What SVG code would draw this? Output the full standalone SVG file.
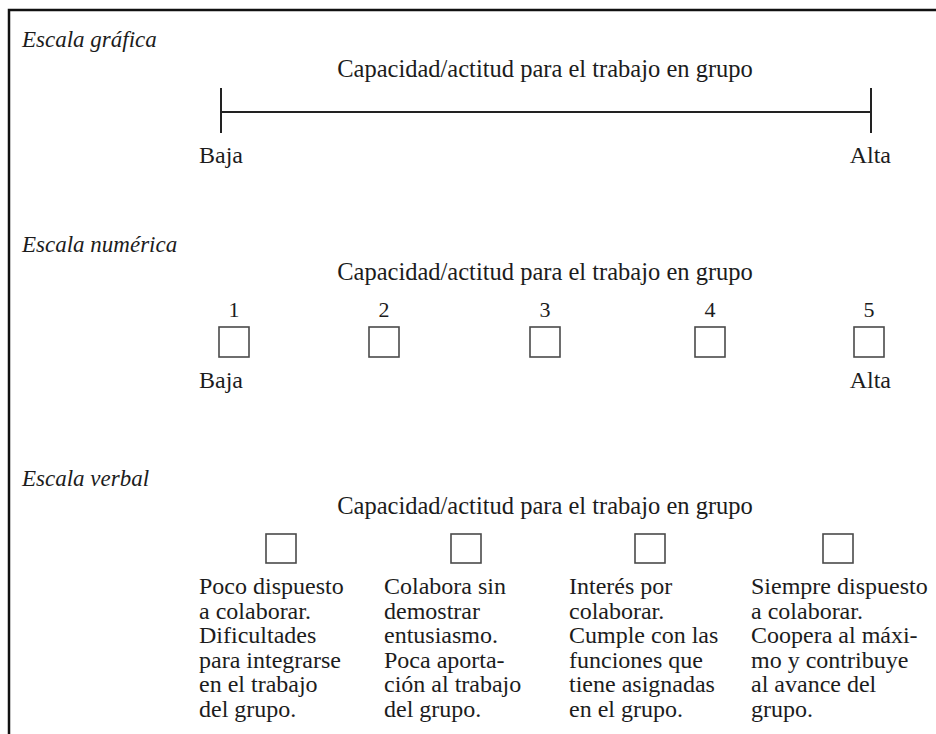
<svg xmlns="http://www.w3.org/2000/svg" width="936" height="734" viewBox="0 0 936 734">
<style>
  text { font-family: "Liberation Serif", "Times New Roman", serif; fill: #1c1c1c; }
  .h { font-style: italic; font-size: 23px; }
  .t { font-size: 24.5px; text-anchor: middle; }
  .n { font-size: 22px; text-anchor: middle; }
  .lbl { font-size: 24px; }
  .d { font-size: 24px; }
  .box { fill: #fff; stroke: #4a4a4a; stroke-width: 1.6; }
  .ln { stroke: #222; stroke-width: 2; fill: none; }
  .frame { stroke: #111; stroke-width: 2.5; fill: none; }
</style>
<rect x="0" y="0" width="936" height="734" fill="#fff"/>
<path class="frame" d="M9,734 V10 H936"/>

<g id="escala-grafica">
  <text class="h" x="22" y="47">Escala gráfica</text>
  <text class="t" x="545" y="77">Capacidad/actitud para el trabajo en grupo</text>
  <text class="lbl" x="199" y="163">Baja</text>
  <text class="lbl" x="891" y="163" text-anchor="end">Alta</text>
</g>

<g id="connectors">
  <line class="ln" x1="221" y1="112" x2="871" y2="112"/>
  <line class="ln" x1="221" y1="88" x2="221" y2="133"/>
  <line class="ln" x1="871" y1="88" x2="871" y2="133"/>
</g>

<g id="escala-numerica">
  <text class="h" x="22" y="252">Escala numérica</text>
  <text class="t" x="545" y="280">Capacidad/actitud para el trabajo en grupo</text>
  <g id="num-1"><text class="n" x="234" y="317">1</text><rect class="box" x="219" y="327" width="30" height="30"/></g>
  <g id="num-2"><text class="n" x="384" y="317">2</text><rect class="box" x="369" y="327" width="30" height="30"/></g>
  <g id="num-3"><text class="n" x="545" y="317">3</text><rect class="box" x="530" y="327" width="30" height="30"/></g>
  <g id="num-4"><text class="n" x="710" y="317">4</text><rect class="box" x="695" y="327" width="30" height="30"/></g>
  <g id="num-5"><text class="n" x="869" y="317">5</text><rect class="box" x="854" y="327" width="30" height="30"/></g>
  <text class="lbl" x="199" y="388">Baja</text>
  <text class="lbl" x="891" y="388" text-anchor="end">Alta</text>
</g>

<g id="escala-verbal">
  <text class="h" x="22" y="486">Escala verbal</text>
  <text class="t" x="545" y="514">Capacidad/actitud para el trabajo en grupo</text>
  <g id="verbal-1">
    <rect class="box" x="266" y="534" width="30" height="29"/>
    <text class="d" x="199" y="594">Poco dispuesto</text>
    <text class="d" x="199" y="618.6">a colaborar.</text>
    <text class="d" x="199" y="643.2">Dificultades</text>
    <text class="d" x="199" y="667.8">para integrarse</text>
    <text class="d" x="199" y="692.4">en el trabajo</text>
    <text class="d" x="199" y="717">del grupo.</text>
  </g>
  <g id="verbal-2">
    <rect class="box" x="451" y="534" width="30" height="29"/>
    <text class="d" x="384" y="594">Colabora sin</text>
    <text class="d" x="384" y="618.6">demostrar</text>
    <text class="d" x="384" y="643.2">entusiasmo.</text>
    <text class="d" x="384" y="667.8">Poca aporta-</text>
    <text class="d" x="384" y="692.4">ción al trabajo</text>
    <text class="d" x="384" y="717">del grupo.</text>
  </g>
  <g id="verbal-3">
    <rect class="box" x="635" y="534" width="30" height="29"/>
    <text class="d" x="569" y="594">Interés por</text>
    <text class="d" x="569" y="618.6">colaborar.</text>
    <text class="d" x="569" y="643.2">Cumple con las</text>
    <text class="d" x="569" y="667.8">funciones que</text>
    <text class="d" x="569" y="692.4">tiene asignadas</text>
    <text class="d" x="569" y="717">en el grupo.</text>
  </g>
  <g id="verbal-4">
    <rect class="box" x="823" y="534" width="30" height="29"/>
    <text class="d" x="751" y="594">Siempre dispuesto</text>
    <text class="d" x="751" y="618.6">a colaborar.</text>
    <text class="d" x="751" y="643.2">Coopera al máxi-</text>
    <text class="d" x="751" y="667.8">mo y contribuye</text>
    <text class="d" x="751" y="692.4">al avance del</text>
    <text class="d" x="751" y="717">grupo.</text>
  </g>
</g>
</svg>
